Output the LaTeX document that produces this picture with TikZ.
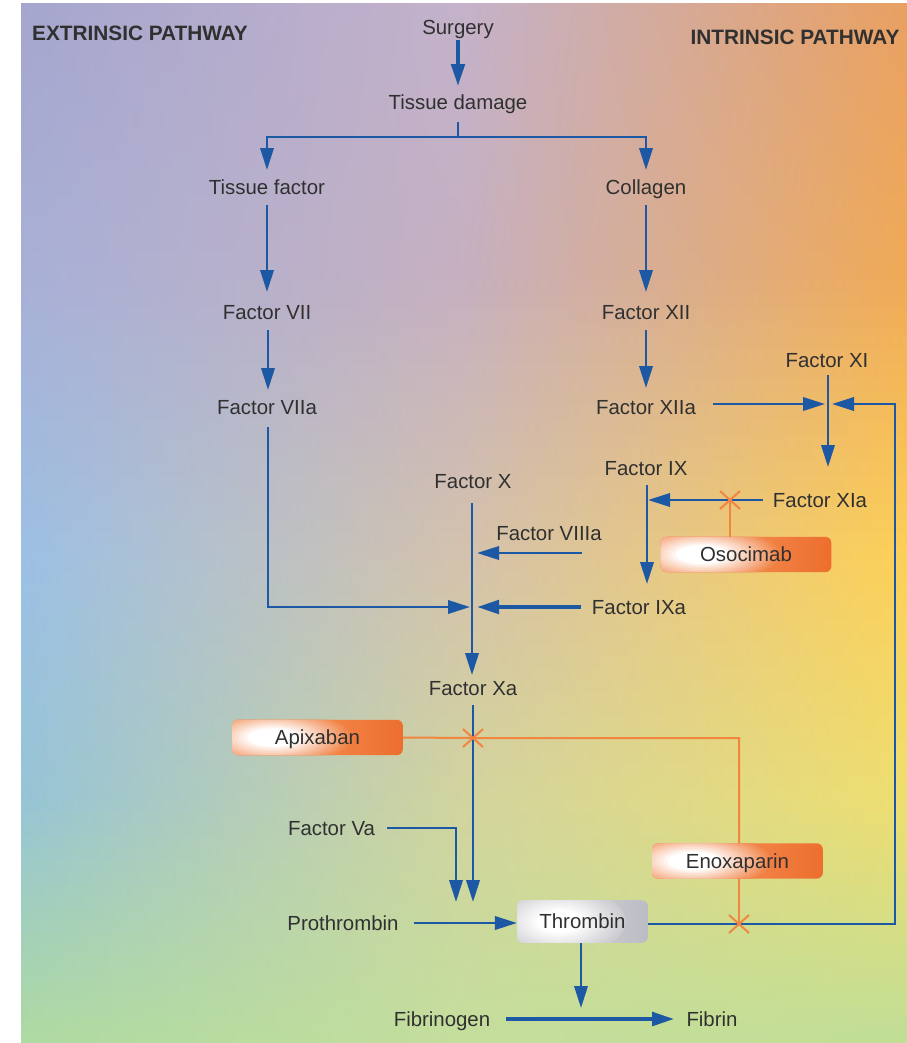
\documentclass[tikz,border=0pt]{standalone}
\usepackage{fontspec}
\setmainfont{Liberation Sans}
\usetikzlibrary{arrows.meta,calc}

\definecolor{ablue}{RGB}{28,88,164}
\definecolor{txt}{RGB}{48,48,48}
\definecolor{orline}{RGB}{240,134,64}
\definecolor{orA}{RGB}{241,128,66}
\definecolor{orC}{RGB}{236,110,46}
\definecolor{grA}{RGB}{200,200,206}
\definecolor{grC}{RGB}{188,188,196}

\definecolor{bgLa}{RGB}{165,166,206}\definecolor{bgMa}{RGB}{196,178,202}\definecolor{bgRa}{RGB}{233,160,98}
\definecolor{bgLb}{RGB}{168,176,214}\definecolor{bgMb}{RGB}{198,176,192}\definecolor{bgRb}{RGB}{240,170,86}
\definecolor{bgLc}{RGB}{156,192,228}\definecolor{bgMc}{RGB}{212,194,172}\definecolor{bgRc}{RGB}{253,208,86}
\definecolor{bgLd}{RGB}{150,196,214}\definecolor{bgMd}{RGB}{210,212,158}\definecolor{bgRd}{RGB}{238,222,112}
\definecolor{bgLe}{RGB}{174,218,162}\definecolor{bgMe}{RGB}{196,222,156}\definecolor{bgRe}{RGB}{192,222,150}

\pgfdeclarehorizontalshading{drugbase}{100bp}{color(0bp)=(orA); color(25bp)=(orA); color(58bp)=(orA); color(75bp)=(orC); color(100bp)=(orC)}
\pgfdeclarehorizontalshading{thrbase}{100bp}{color(0bp)=(grA); color(25bp)=(grA); color(58bp)=(grA); color(75bp)=(grC); color(100bp)=(grC)}

\newcommand\bgband[8]{%
  \foreach \i in {0,...,19}{%
    \pgfmathsetmacro\ya{#1+(#2-#1)*\i/20}%
    \pgfmathsetmacro\yb{#1+(#2-#1)*(\i+1)/20+1.5}%
    \pgfmathtruncatemacro\p{100-100*(\i+0.5)/20}%
    \shade[left color=#3!\p!#6, right color=#5!\p!#8, middle color=#4!\p!#7] (21,\ya) rectangle (907,\yb);
  }%
}
% glow: #1 base colour, #2 fraction of width for centre, #3 x radius (pt), #4 y radius (pt)
\newcommand\glowfill[4]{%
  \foreach \k in {0,...,17}{%
    \pgfmathsetmacro\rr{1-\k/18}%
    \pgfmathtruncatemacro\pp{min(100,100*(\k+1)/13)}%
    \fill[white!\pp!#1] ($(path picture bounding box.west)!#2!(path picture bounding box.east)$) ellipse [x radius=\rr*#3pt, y radius=\rr*#4pt];
  }%
}

\begin{document}
\begin{tikzpicture}[x=0.75pt,y=-0.75pt,
  lbl/.style={text=txt,font=\fontsize{15.3}{18}\selectfont,inner sep=0pt,text height=10.9pt,text depth=0pt},
  hdr/.style={lbl,font=\fontsize{15.6}{18}\selectfont\bfseries},
  drug/.style={lbl,shade,shading=drugbase,rounded corners=4.5pt,minimum width=128pt,minimum height=26.5pt,
    path picture={\glowfill{orA}{0.24}{58}{21}}},
  thr/.style={lbl,shade,shading=thrbase,rounded corners=4.5pt,minimum width=98pt,minimum height=32pt,
    path picture={\glowfill{grA}{0.32}{50}{26}}},
  line/.style={draw=ablue,line width=1.9pt},
  arr/.style={line,-{Triangle[length=16.5pt,width=10pt]}},
  tarr/.style={draw=ablue,line width=3pt,-{Triangle[length=16.5pt,width=10pt]}},
  oline/.style={draw=orline,line width=1.5pt},
  xmark/.style={draw=orline,line width=1.5pt}
]
\useasboundingbox (0,0) rectangle (907,1043);

% background
\begin{scope}
\clip (21,3) rectangle (907,1043);
\bgband{3}{280}{bgLa}{bgMa}{bgRa}{bgLb}{bgMb}{bgRb}
\bgband{280}{560}{bgLb}{bgMb}{bgRb}{bgLc}{bgMc}{bgRc}
\bgband{560}{800}{bgLc}{bgMc}{bgRc}{bgLd}{bgMd}{bgRd}
\bgband{800}{1043}{bgLd}{bgMd}{bgRd}{bgLe}{bgMe}{bgRe}
\end{scope}

% headers
\node[hdr] (hdrE) at (140,33) {EXTRINSIC PATHWAY};
\node[hdr] (hdrI) at (795,37) {INTRINSIC PATHWAY};

% nodes
\node[lbl] (surgery) at (458,27) {Surgery};
\node[lbl] (tdam) at (458,102) {Tissue damage};
\node[lbl] (tf) at (267,187) {Tissue factor};
\node[lbl] (coll) at (646,187) {Collagen};
\node[lbl] (f7) at (267,312) {Factor VII};
\node[lbl] (f12) at (646,312) {Factor XII};
\node[lbl] (f7a) at (267,407) {Factor VIIa};
\node[lbl] (f12a) at (646,407) {Factor XIIa};
\node[lbl] (f11) at (827,360) {Factor XI};
\node[lbl] (f10) at (473,481) {Factor X};
\node[lbl] (f9) at (646,468) {Factor IX};
\node[lbl] (f11a) at (820,500) {Factor XIa};
\node[lbl] (f8a) at (549,533) {Factor VIIIa};
\node[lbl] (f9a) at (639,607) {Factor IXa};
\node[lbl] (f10a) at (473,688) {Factor Xa};
\node[lbl] (f5a) at (331.5,828) {Factor Va};
\node[lbl] (proth) at (343,923) {Prothrombin};
\node[lbl] (fibrinogen) at (442,1019) {Fibrinogen};
\node[lbl] (fibrin) at (712,1019) {Fibrin};

\node[drug] (oso) at (746,554.5) {Osocimab};
\node[drug] (apix) at (317.5,737.5) {Apixaban};
\node[drug] (enox) at (737.5,861) {Enoxaparin};
\node[thr] (thromb) at (582.5,921.5) {Thrombin};

% coordinates
\coordinate (j1) at (458,137);
\coordinate (jX) at (472,607);
\coordinate (jXI) at (828,404);
\coordinate (fbc) at (895,404);
\coordinate (j9) at (647,500);
\coordinate (xo) at (730,500);
\coordinate (xa) at (473,738);
\coordinate (xe) at (739,924);
\coordinate (tipXa) at (473,902);
\coordinate (tipVa) at (456,902);
\coordinate (jF) at (581,1019);

% blue connectors
\draw[tarr] ($(surgery)+(0,13)$) -- ($(tdam)+(0,-16)$);
\draw[line] ($(tdam)+(0,20)$) -- (j1);
\draw[arr] (j1) -| ($(tf)+(0,-17)$);
\draw[arr] (j1) -| ($(coll)+(0,-17)$);
\draw[arr] ($(tf)+(0,18)$) -- ($(f7)+(0,-20)$);
\draw[arr] ($(coll)+(0,18)$) -- ($(f12)+(0,-20)$);
\draw[arr] ($(f7)+(1,18)$) -- ($(f7a)+(1,-17)$);
\draw[arr] ($(f12)+(0,18)$) -- ($(f12a)+(0,-19)$);
\draw[arr] ($(f7a)+(1,20)$) |- ($(jX)+(-2,0)$);
\draw[arr] ($(f10)+(-1,22)$) -- ($(f10a)+(-1,-13)$);
\draw[arr] ($(f8a)+(33,20)$) -- ($(f10)+(4,72)$);
\draw[tarr] ($(f9a.west)+(-11,0)$) -- ($(jX)+(5,0)$);
\draw[arr] ($(f12a.east)+(17,-3)$) -- ($(jXI)+(-3,0)$);
\draw[arr] ($(f11)+(1,15)$) -- ($(f11a)+(8,-33)$);
\draw[arr] ($(thromb.east)+(0,2.5)$) -| (fbc) -- ($(jXI)+(4,0)$);
\draw[arr] ($(f11a.west)+(-10,0)$) -- ($(j9)+(1,0)$);
\draw[arr] ($(f9)+(1,17)$) -- ($(f9a)+(8,-23)$);
\draw[arr] ($(f10a)+(0,17)$) -- (tipXa);
\draw[arr] ($(f5a.east)+(12,0)$) -| (tipVa);
\draw[arr] ($(proth.east)+(15,0)$) -- (proth.east -| thromb.west);
\draw[arr] ($(thromb.south)+(-1.5,0)$) -- ($(jF)+(0,-11)$);
\draw[tarr] ($(fibrinogen.east)+(16,0)$) -- ($(fibrin.west)+(-12,0)$);

% orange inhibitor lines
\draw[oline] ($(oso.north)+(-16,0)$) -- (xo);
\draw[oline] (apix.east) -- (xa) -| ($(enox.north)+(1.5,0)$);
\draw[oline] ($(enox.south)+(1.5,0)$) -- (xe);
\foreach \c in {xo,xa,xe}{
  \draw[xmark] ($(\c)+(-10,-9)$) -- ($(\c)+(10,9)$);
  \draw[xmark] ($(\c)+(-10,9)$) -- ($(\c)+(10,-9)$);
}
\end{tikzpicture}
\end{document}
